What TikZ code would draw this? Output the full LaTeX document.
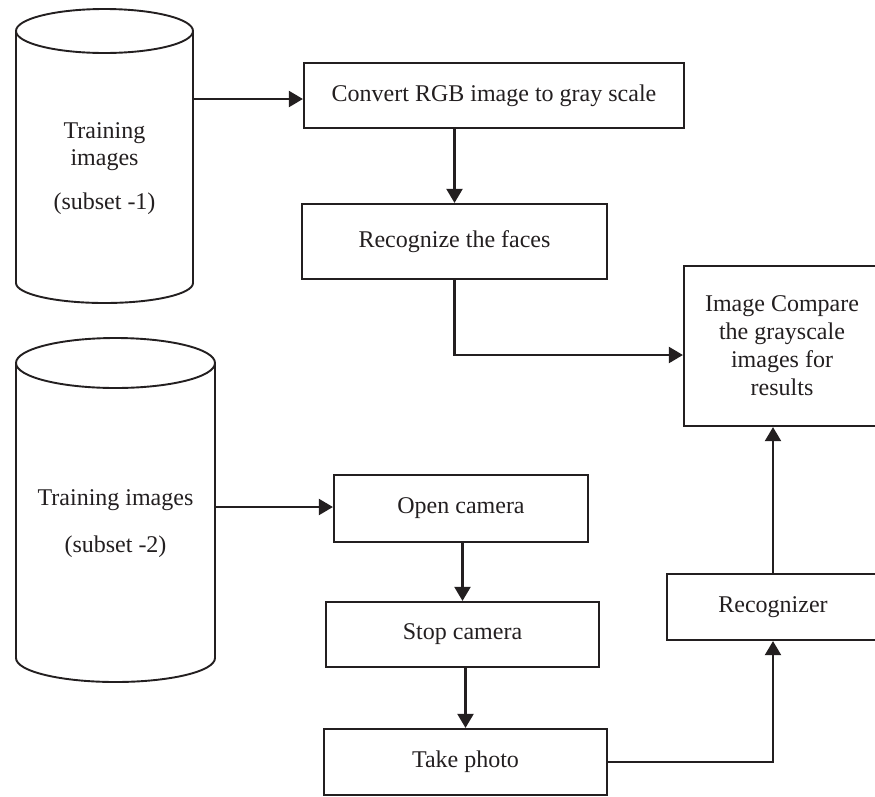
\documentclass[tikz,border=0pt]{standalone}
\usepackage{fontspec}
\setmainfont{Liberation Serif}
\usetikzlibrary{arrows.meta,positioning}
\definecolor{ink}{RGB}{35,31,32}
\tikzset{
  box/.style={draw=ink, line width=2.2pt, rectangle, align=center, inner sep=0pt, text=ink,
    font=\fontsize{24}{28}\selectfont},
  lbl/.style={align=center, inner sep=0pt, text=ink, font=\fontsize{24}{28}\selectfont},
  cyl/.style={draw=ink, line width=1.9pt, fill=white},
  arr/.style={draw=ink, line width=2.1pt, -{Triangle[length=14pt,width=16pt]}},
  conn/.style={draw=ink, line width=2.1pt}
}
\begin{document}
\begin{tikzpicture}[x=1pt,y=-1pt]
\useasboundingbox (0,0) rectangle (875,796);
\clip (0,0) rectangle (875,796);
\fill[white] (0,0) rectangle (875,796);

% cylinder 1
\path[cyl] (16,31) -- (16,283) arc[start angle=180,end angle=360,x radius=88.5,y radius=-20] -- (193,31);
\path[cyl] (104.5,31) ellipse[x radius=88.5,y radius=22];
\node[lbl] (t1a) at (104.5,133) {Training};
\node[lbl] (t1b) at (104.5,160) {images};
\node[lbl] (t1c) at (104.5,204) {(subset -1)};
\coordinate (c1a) at (193,99);

% cylinder 2
\path[cyl] (16,363) -- (16,658) arc[start angle=180,end angle=360,x radius=99.5,y radius=-24] -- (215,363);
\path[cyl] (115.5,363) ellipse[x radius=99.5,y radius=25];
\node[lbl] (t2a) at (115.5,500) {Training images};
\node[lbl] (t2b) at (115.5,547) {(subset -2)};
\coordinate (c2a) at (215,507);

% boxes
\node[box, minimum width=380pt, minimum height=65pt] (conv) at (494,95.5) {Convert RGB image to gray scale};
\node[box, minimum width=305pt, minimum height=75pt] (faces) at (454.5,241.5) {Recognize the faces};
\node[box, minimum width=196pt, minimum height=160pt] (cmp) at (782,346) {Image Compare\\the grayscale\\images for\\results};
\node[box, minimum width=254pt, minimum height=67pt] (open) at (461,508.5) {Open camera};
\node[box, minimum width=273pt, minimum height=65pt] (stop) at (462.5,634.5) {Stop camera};
\node[box, minimum width=283pt, minimum height=66pt] (take) at (465.5,762) {Take photo};
\node[box, minimum width=212pt, minimum height=66pt] (recz) at (773,607) {Recognizer};

% connectors
\draw[arr] (c1a) -- (c1a -| conv.west);
\draw[arr] (faces.north |- conv.south) -- (faces.north);
\draw[arr] (faces.south) |- ([yshift=-9pt]cmp.west);
\draw[arr] (c2a) -- (c2a -| open.west);
\draw[arr] (stop.north |- open.south) -- (stop.north);
\draw[arr] (take.north |- stop.south) -- (take.north);
\draw[arr] (take.east) -| (recz.south);
\draw[arr] (recz.north) -- (recz.north |- cmp.south);
\end{tikzpicture}
\end{document}
